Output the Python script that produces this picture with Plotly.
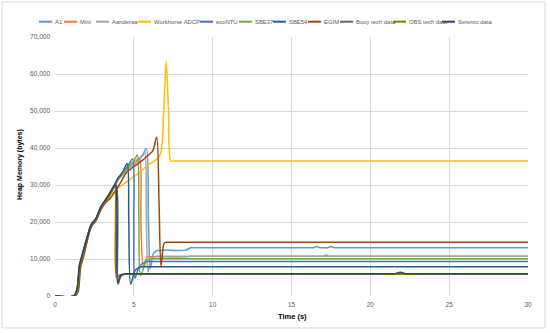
import plotly.graph_objects as go

# ---------------- data ----------------
SERIES = ["A1", "Mini", "Aanderaa", "Workhorse ADCP", "ecoNTU", "SBE37",
          "SBE54", "EGIM", "Buoy tech data", "OBS tech data", "Seismic data"]
COLORS = ["#5B9BD5", "#ED7D31", "#A5A5A5", "#FFC000", "#4472C4", "#70AD47",
          "#255E91", "#9E480E", "#636363", "#997300", "#264478"]

A1_t = [0, 1.2, 1.4, 1.57, 1.77, 2.0, 2.3, 2.6, 2.9, 3.2, 3.5, 3.75, 4.0, 4.3, 4.6, 5.0, 5.3, 5.6, 5.8, 5.93, 6.05, 6.25, 6.5, 6.8, 8.3, 8.6, 8.9, 16.3, 16.4, 16.6, 16.8, 16.9, 17.2, 17.3, 17.5, 17.7, 17.8, 29.7, 30]
A1_v = [0, 0, 1400, 8000, 11300, 15000, 19000, 20700, 23600, 25600, 27600, 29400, 31500, 33000, 34500, 35800, 36800, 38500, 39900, 20000, 7500, 11500, 12300, 12400, 12400, 13050, 13050, 13050, 13050, 13400, 13050, 13050, 13050, 13050, 13400, 13050, 13050, 13050, 13050]

Mini_t = [0, 1.25, 1.45, 1.6, 1.8, 2.05, 2.3, 2.6, 2.9, 3.2, 3.5, 3.75, 4.0, 4.3, 4.6, 5.0, 5.35, 5.45, 5.6, 5.85, 6.1, 8.3, 8.6, 8.9, 16.8, 17.0, 17.2, 17.4, 17.6, 29.7, 30]
Mini_v = [0, 0, 1400, 7800, 11000, 15200, 18800, 20500, 23400, 25400, 27400, 29200, 31300, 32800, 34300, 35800, 37300, 20000, 8000, 10600, 10600, 10600, 10750, 10750, 10750, 10750, 11100, 10750, 10750, 10750, 10750]

Aanderaa_t = [0, 1.22, 1.42, 1.58, 1.78, 2.0, 2.3, 2.6, 2.9, 3.2, 3.5, 3.75, 4.0, 4.3, 4.6, 5.0, 5.3, 5.55, 5.7, 5.8, 5.9, 6.1, 6.4, 6.7, 29.7, 30]
Aanderaa_v = [0, 0, 1500, 8100, 11200, 15000, 18900, 20600, 23500, 25500, 27500, 29300, 31400, 32900, 34400, 35600, 36600, 37800, 38800, 20000, 6500, 10000, 10750, 10750, 10750, 10750]

Workhorse_t = [0, 1.25, 1.45, 1.6, 1.8, 2.05, 2.3, 2.6, 2.9, 3.2, 3.5, 3.8, 4.2, 4.7, 5.3, 5.9, 6.4, 6.7, 6.9, 7.05, 7.2, 7.35, 7.6, 29.7, 30]
Workhorse_v = [0, 0, 1300, 7900, 11000, 15000, 18800, 20400, 23300, 25300, 27000, 28300, 29800, 31300, 33200, 35400, 36800, 38500, 50000, 63500, 50000, 36500, 36500, 36500, 36500]

ecoNTU_t = [0, 1.2, 1.4, 1.57, 1.77, 2.0, 2.3, 2.6, 2.9, 3.2, 3.5, 3.75, 4.0, 4.3, 4.6, 4.92, 5.0, 5.07, 5.35, 5.8, 6.1, 29.7, 30]
ecoNTU_v = [0, 0, 1500, 8100, 11300, 15100, 19000, 20800, 23700, 25700, 27800, 29600, 31700, 33300, 35000, 37000, 20000, 4800, 8000, 9300, 9300, 9300, 9300]

SBE37_t = [0, 1.18, 1.38, 1.55, 1.75, 2.0, 2.3, 2.6, 2.9, 3.2, 3.5, 3.75, 4.0, 4.3, 4.6, 5.0, 5.22, 5.32, 5.42, 5.75, 6.0, 6.3, 29.7, 30]
SBE37_v = [0, 0, 1600, 8300, 11600, 15500, 19400, 21000, 24000, 26000, 28000, 29800, 32000, 33200, 34800, 36500, 38100, 20000, 5500, 9000, 10100, 10100, 10100, 10100]

SBE54_t = [0, 1.2, 1.4, 1.56, 1.76, 2.0, 2.3, 2.6, 2.9, 3.2, 3.5, 3.75, 4.0, 4.3, 4.58, 4.68, 4.8, 5.1, 5.5, 5.8, 29.7, 30]
SBE54_v = [0, 0, 1500, 8200, 11400, 15300, 19200, 20900, 23900, 25900, 27900, 29800, 31800, 33600, 35800, 20000, 3200, 7000, 7900, 7900, 7900, 7900]

EGIM_t = [0, 1.27, 1.47, 1.62, 1.82, 2.05, 2.3, 2.6, 2.9, 3.2, 3.5, 3.8, 4.2, 4.5, 5.0, 5.5, 5.9, 6.2, 6.45, 6.6, 6.72, 6.9, 7.0, 7.3, 29.7, 30]
EGIM_v = [0, 0, 1200, 7600, 10800, 15000, 18700, 20300, 23200, 25200, 26400, 28200, 31000, 33200, 35000, 36500, 38000, 39200, 43000, 25000, 8000, 14000, 14500, 14500, 14500, 14500]

Buoy_t = [0, 1.2, 1.4, 1.56, 1.76, 2.0, 2.3, 2.6, 2.9, 3.2, 3.5, 3.75, 3.9, 4.0, 4.2, 4.5, 4.8, 29.7, 30]
Buoy_v = [0, 0, 1500, 8100, 11300, 15200, 19100, 20800, 23700, 25700, 27700, 29600, 29800, 3200, 5500, 6000, 6000, 6000, 6000]

OBS_t = [0, 1.22, 1.42, 1.58, 1.78, 2.0, 2.3, 2.6, 2.9, 3.2, 3.5, 3.7, 3.8, 3.9, 4.1, 4.4, 4.7, 29.7, 30]
OBS_v = [0, 0, 1400, 8000, 11200, 15100, 19000, 20600, 23500, 25500, 27500, 29500, 29900, 5000, 5700, 5900, 5900, 5900, 5900]

Seismic_t = [0, 1.2, 1.38, 1.55, 1.75, 2.0, 2.3, 2.6, 2.9, 3.2, 3.5, 3.75, 3.85, 3.97, 4.15, 4.5, 4.8, 21.2, 21.5, 21.9, 22.3, 22.6, 29.7, 30]
Seismic_v = [0, 0, 1500, 8200, 11500, 15200, 19200, 21000, 24000, 26000, 28000, 29800, 30000, 3500, 5500, 6000, 6000, 6000, 6000, 6400, 6000, 6000, 6000, 6000]

TIMES = [A1_t, Mini_t, Aanderaa_t, Workhorse_t, ecoNTU_t, SBE37_t, SBE54_t, EGIM_t, Buoy_t, OBS_t, Seismic_t]
VALUES = [A1_v, Mini_v, Aanderaa_v, Workhorse_v, ecoNTU_v, SBE37_v, SBE54_v, EGIM_v, Buoy_v, OBS_v, Seismic_v]

X_TICKS = [0, 5, 10, 15, 20, 25, 30]
Y_TICKS = [0, 10000, 20000, 30000, 40000, 50000, 60000, 70000]

# ---------------- layout geometry (pixels) ----------------
W, H = 550, 333
PL, PR, PT, PB = 55, 528, 37, 296
FONT = "Liberation Sans, Arial, sans-serif"
TXT = "#595959"

def px(x):
    return (x - PL) / (PR - PL)

def py(y):
    return (PB - y) / (PB - PT)

fig = go.Figure()
for name, col, t, v in zip(SERIES, COLORS, TIMES, VALUES):
    fig.add_trace(go.Scatter(x=t, y=v, mode="lines", name=name,
                             line=dict(color=col, width=1.5, shape="spline", smoothing=0.8),
                             showlegend=False))

# custom legend (Excel style, single row)
LEG_X = [39, 64, 96, 138, 200, 239, 273, 308, 340, 393, 442]
LEG_Y = 21.7
shapes = []
annotations = []
for name, col, lx in zip(SERIES, COLORS, LEG_X):
    shapes.append(dict(type="line", xref="paper", yref="paper",
                       x0=px(lx), x1=px(lx + 13), y0=py(LEG_Y), y1=py(LEG_Y),
                       line=dict(color=col, width=2)))
    annotations.append(dict(xref="paper", yref="paper", x=px(lx + 13.5), y=py(LEG_Y),
                            text=name, showarrow=False, xanchor="left", yanchor="middle",
                            font=dict(family=FONT, size=5.9, color=TXT)))

# chart border
shapes.append(dict(type="rect", xref="paper", yref="paper",
                   x0=px(2), x1=px(545), y0=py(328), y1=py(2),
                   line=dict(color="#d9d9d9", width=1), layer="below"))

annotations.append(dict(xref="paper", yref="paper", x=px(20), y=py(165),
                        text="<b>Heap Memory (bytes)</b>", textangle=-90, showarrow=False,
                        xanchor="center", yanchor="middle",
                        font=dict(family=FONT, size=7, color="#000000")))
annotations.append(dict(xref="paper", yref="paper", x=px(292), y=py(316),
                        text="<b>Time (s)</b>", showarrow=False,
                        xanchor="center", yanchor="middle",
                        font=dict(family=FONT, size=7.5, color="#000000")))

fig.update_layout(
    width=W, height=H,
    margin=dict(l=PL, r=W - PR, t=PT, b=H - PB, pad=0, autoexpand=False),
    paper_bgcolor="white", plot_bgcolor="white",
    shapes=shapes, annotations=annotations,
    showlegend=False,
    xaxis=dict(range=[0, 30], tickvals=X_TICKS, showgrid=True, gridcolor="#d9d9d9",
               gridwidth=1, zeroline=False, showline=False, ticks="", automargin=False,
               tickfont=dict(family=FONT, size=6.5, color=TXT), ticklabelstandoff=3),
    yaxis=dict(range=[0, 70000], tickvals=Y_TICKS, tickformat=",", showgrid=True,
               gridcolor="#d9d9d9", gridwidth=1, zeroline=False, showline=False, ticks="",
               automargin=False,
               tickfont=dict(family=FONT, size=6.5, color=TXT), ticklabelstandoff=4),
)

fig.write_html("out.html", config={"displayModeBar": False},
               post_script="document.body.style.margin='0';document.body.style.overflow='hidden';")
